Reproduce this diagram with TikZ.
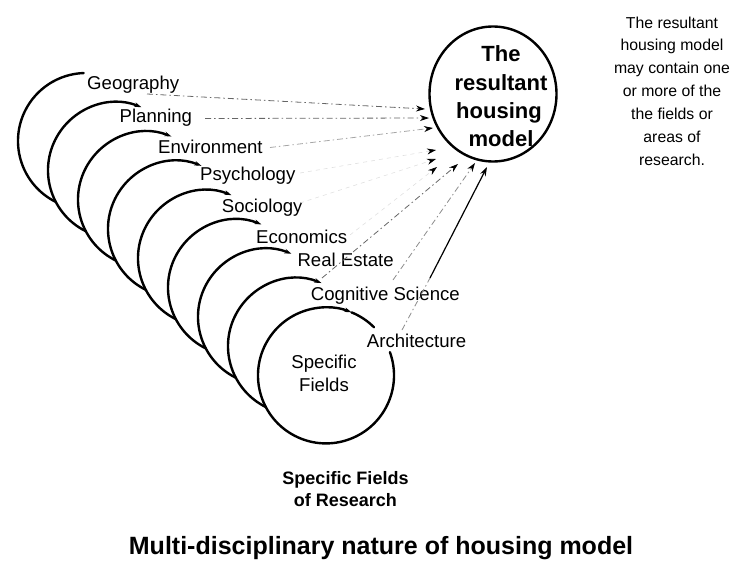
\documentclass[tikz,border=0pt]{standalone}
\usepackage{fontspec}
\setmainfont{Liberation Sans}
\usetikzlibrary{arrows.meta}
\begin{document}
\begin{tikzpicture}[x=1pt,y=1pt,
  ring/.style={line width=2.4pt, line cap=round},
  ringtip/.style={-{Stealth[length=7pt,width=4.5pt]}},
  lbl/.style={font=\fontsize{18.6}{22}\selectfont, anchor=base west, inner sep=0pt},
  ctr/.style={font=\fontsize{18.6}{22}\selectfont, anchor=base, inner sep=0pt},
  captext/.style={font=\bfseries\fontsize{18}{22}\selectfont, anchor=base, inner sep=0pt},
  hubtxt/.style={font=\bfseries\fontsize{22}{26}\selectfont, anchor=base, inner sep=0pt},
  notetext/.style={font=\fontsize{15.8}{19}\selectfont, anchor=base, inner sep=0pt},
  link/.style={draw=black!60, line width=0.8pt, dash pattern=on 6pt off 3pt on 1.5pt off 3pt,
               -{Stealth[length=9pt,width=6pt,color=black]}},
  faint/.style={draw=black!12, line width=0.6pt, dash pattern=on 4pt off 4pt,
               -{Stealth[length=9pt,width=6pt,color=black]}},
  solidlink/.style={draw=black, line width=1.2pt, -{Stealth[length=9pt,width=6pt]}}]
\useasboundingbox (0,0) rectangle (741,-570);

% centres of the stacked circles, back to front
\foreach \i in {0,...,8} {
  \coordinate (c\i) at ({86+30*\i}, {-(141+29.3*\i)});
}

% rear circles: visible arc only, ending in a small tip
\draw[ring] (c0) ++(243.7:68) arc[start angle=243.7, end angle=92, radius=68];
\foreach \i in {1,...,7} {
  \draw[ring,ringtip] (c\i) ++(243.7:68) arc[start angle=243.7, end angle=68, radius=68];
}
% front circle, open where the last label sits
\draw[ring,ringtip] (c8) ++(20:68) arc[start angle=20, end angle=-292, radius=68];
\draw[ring] (c8) ++(68:68) arc[start angle=68, end angle=45, radius=68];

% field labels
\node[lbl] (geo) at (87,-89) {Geography};
\node[lbl] (pla) at (119.5,-122.5) {Planning};
\node[lbl] (env) at (158,-153.3) {Environment};
\node[lbl] (psy) at (200,-180.7) {Psychology};
\node[lbl] (soc) at (221.7,-212.7) {Sociology};
\node[lbl] (eco) at (256,-243.3) {Economics};
\node[lbl] (rea) at (297.3,-266.7) {Real Estate};
\node[lbl] (cog) at (310.7,-300) {Cognitive Science};
\node[lbl] (archi) at (366.7,-347.3) {Architecture};

\node[ctr] (sf1) at (324,-368.3) {Specific};
\node[ctr] (sf2) at (324,-391.7) {Fields};

% resultant model
\coordinate (hub) at (493,-94);
\draw[ring] (hub) ellipse[x radius=63.5, y radius=67.5];
\node[hubtxt] (h1) at (501,-61.7) {The};
\node[hubtxt] (h2) at (501,-90) {resultant};
\node[hubtxt] (h3) at (499,-118.3) {housing};
\node[hubtxt] (h4) at (501,-146.7) {model};

% side note
\node[notetext] (n1) at (672,-28) {The resultant};
\node[notetext] (n2) at (672,-50.9) {housing model};
\node[notetext] (n3) at (672,-73.8) {may contain one};
\node[notetext] (n4) at (672,-96.7) {or more of the};
\node[notetext] (n5) at (672,-119.6) {the fields or};
\node[notetext] (n6) at (672,-142.5) {areas of};
\node[notetext] (n7) at (672,-165.4) {research.};

% connector end points
\coordinate (gs) at (147,-94);   \coordinate (ge) at (425,-109);
\coordinate (ps) at (205,-118.5);\coordinate (pe) at (429,-118);
\coordinate (es) at (270,-147.5);\coordinate (ee) at (433,-128);
\coordinate (ys) at (300,-173);  \coordinate (ye) at (436,-150);
\coordinate (ss) at (300,-203);  \coordinate (se) at (436,-159);
\coordinate (ks) at (350,-235);  \coordinate (ke) at (437,-167);
\coordinate (rs) at (322,-278);  \coordinate (re) at (458,-164);
\coordinate (cs) at (393,-280);  \coordinate (ce) at (475,-163);
\coordinate (as) at (402,-330);  \coordinate (am) at (430,-278); \coordinate (ae) at (487,-167);

\draw[link] (gs) -- (ge);
\draw[link] (ps) -- (pe);
\draw[link,draw=black!35] (es) -- (ee);
\draw[faint] (ys) -- (ye);
\draw[faint] (ss) -- (se);
\draw[faint] (ks) -- (ke);
\draw[link] (rs) -- (re);
\draw[link,draw=black!45] (cs) -- (ce);
\draw[draw=black!45, line width=0.8pt, dash pattern=on 6pt off 3pt on 1.5pt off 3pt] (as) -- (am);
\draw[solidlink] (am) -- (ae);

% captions
\node[captext] (k1) at (345.5,-484) {Specific Fields};
\node[captext] (k2) at (345.5,-506.7) {of Research};
\node[font=\bfseries\fontsize{25}{30}\selectfont, anchor=base, inner sep=0pt] (title) at (381,-554) {Multi-disciplinary nature of housing model};
\end{tikzpicture}
\end{document}
